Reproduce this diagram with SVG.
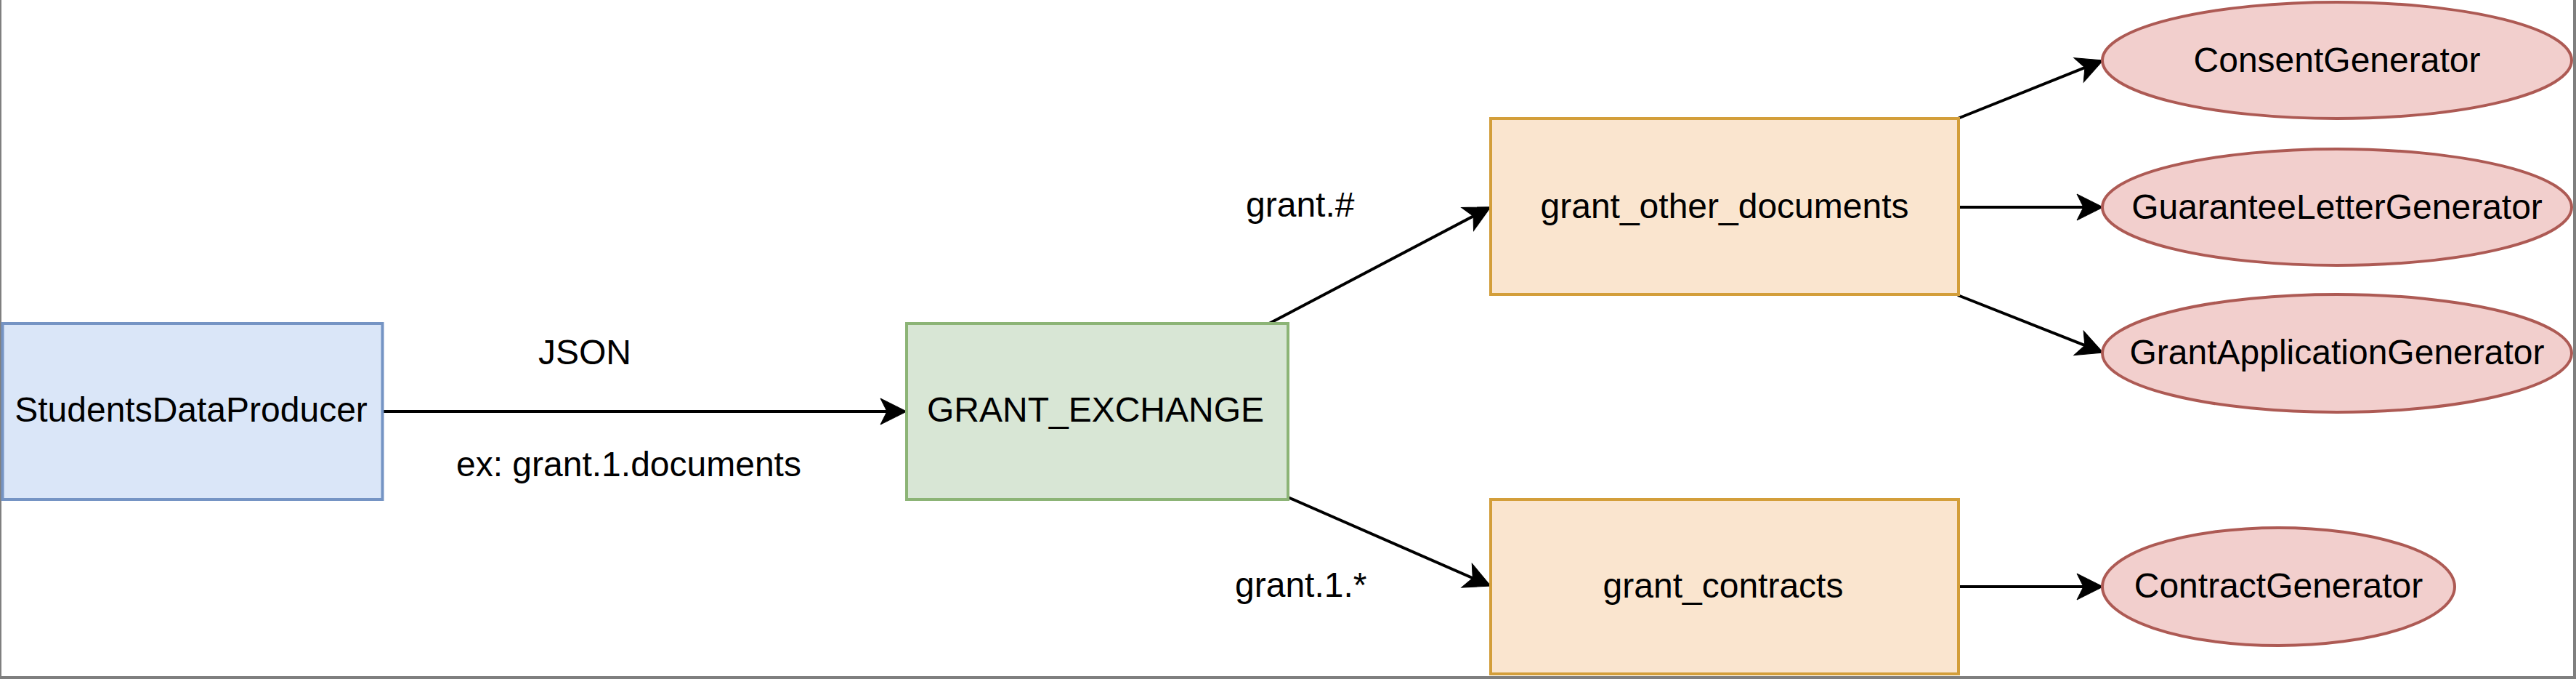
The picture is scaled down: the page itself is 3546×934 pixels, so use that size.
<svg xmlns="http://www.w3.org/2000/svg" width="3546" height="934" viewBox="0 0 3546 934">
<style>
text{font-family:"Liberation Sans",Arial,Helvetica,sans-serif;font-size:48px;fill:#000}
.c{text-anchor:middle}
.blue{fill:#dae6f8;stroke:#7594c4;stroke-width:4}
.green{fill:#d8e6d5;stroke:#8cb476;stroke-width:4}
.orange{fill:#fae5cf;stroke:#d39e3a;stroke-width:4}
.red{fill:#f2cfcd;stroke:#ad5a54;stroke-width:4}
.edge{fill:none;stroke:#000;stroke-width:4;marker-end:url(#arr)}
.frame{fill:#7f7f7f}
</style>
<defs>
<marker id="arr" markerUnits="userSpaceOnUse" orient="auto" refX="-20" refY="0" markerWidth="40" markerHeight="40" overflow="visible">
<path d="M0,0 L-36,-18 L-27,0 L-36,18 Z" fill="#000" stroke="#000" stroke-width="1"/>
</marker>
</defs>
<rect width="3546" height="934" fill="#fff"/>
<g id="frame">
<rect class="frame" x="0" y="0" width="2" height="934"/>
<rect class="frame" x="3542" y="0" width="4" height="934"/>
<rect class="frame" x="0" y="930" width="3546" height="4"/>
</g>
<g id="connectors">
<path class="edge" d="M527,566 L1228,566"/>
<path class="edge" d="M1747,445 L2034.3,294"/>
<path class="edge" d="M1773,684 L2033.7,798"/>
<path class="edge" d="M2695,163 L2876.4,90.4"/>
<path class="edge" d="M2696,285 L2875,285"/>
<path class="edge" d="M2695,406 L2876.4,477.7"/>
<path class="edge" d="M2696,807 L2875,807"/>
</g>
<g id="labels">
<text x="805" y="501" class="c">JSON</text>
<text x="628" y="655">ex: grant.1.documents</text>
<text x="1715" y="298">grant.#</text>
<text x="1700" y="821">grant.1.*</text>
</g>
<g id="StudentsDataProducer">
<rect class="blue" x="3.5" y="445" width="523" height="242"/>
<text x="263" y="580" class="c">StudentsDataProducer</text>
</g>
<g id="GRANT_EXCHANGE">
<rect class="green" x="1248" y="445" width="525" height="242"/>
<text x="1508" y="580" class="c">GRANT_EXCHANGE</text>
</g>
<g id="grant_other_documents">
<rect class="orange" x="2052" y="163" width="644" height="242"/>
<text x="2374" y="300" class="c">grant_other_documents</text>
</g>
<g id="grant_contracts">
<rect class="orange" x="2052" y="687" width="644" height="240"/>
<text x="2372" y="822" class="c">grant_contracts</text>
</g>
<g id="ConsentGenerator">
<ellipse class="red" cx="3217" cy="83" rx="323" ry="80"/>
<text x="3217" y="99" class="c">ConsentGenerator</text>
</g>
<g id="GuaranteeLetterGenerator">
<ellipse class="red" cx="3217" cy="285" rx="323" ry="80"/>
<text x="3217" y="301" class="c">GuaranteeLetterGenerator</text>
</g>
<g id="GrantApplicationGenerator">
<ellipse class="red" cx="3217" cy="486" rx="323" ry="81"/>
<text x="3217" y="501" class="c">GrantApplicationGenerator</text>
</g>
<g id="ContractGenerator">
<ellipse class="red" cx="3136.5" cy="807" rx="242.5" ry="81"/>
<text x="3136.5" y="822" class="c">ContractGenerator</text>
</g>
</svg>
